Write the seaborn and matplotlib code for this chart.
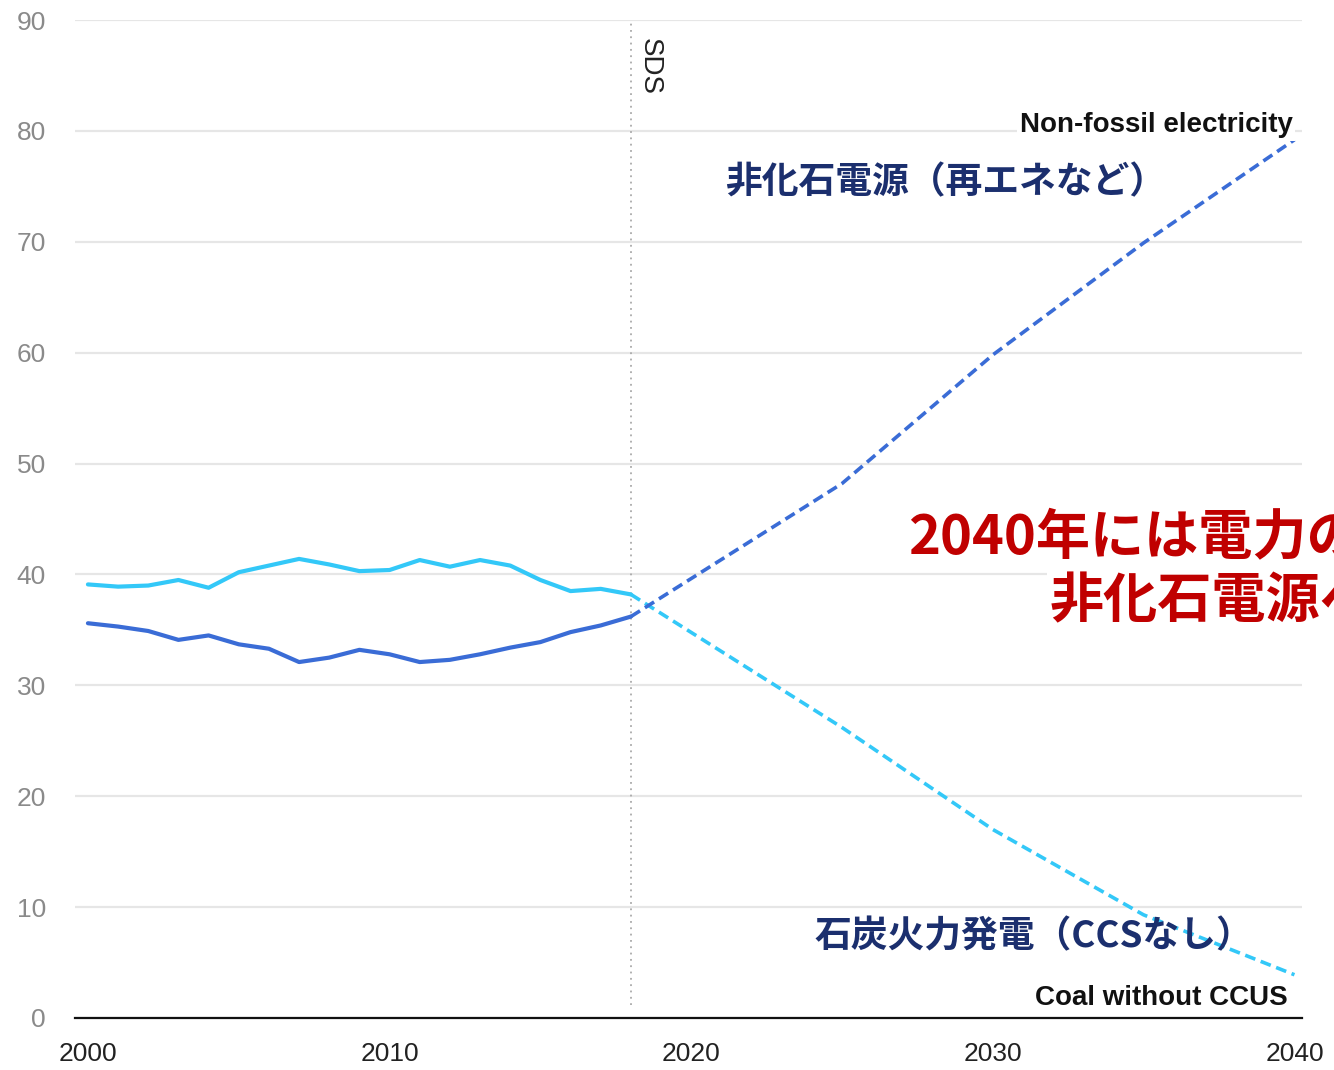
import numpy as np
import pandas as pd
import matplotlib
matplotlib.use("Agg")
import matplotlib.pyplot as plt
import seaborn as sns

# ---- data ----
hist_years = list(range(2000, 2019))
coal_hist = [39.1, 38.9, 39.0, 39.5, 38.8, 40.2, 40.8, 41.4, 40.9, 40.3, 40.4,
             41.3, 40.7, 41.3, 40.8, 39.5, 38.5, 38.7, 38.2]
nonfossil_hist = [35.6, 35.3, 34.9, 34.1, 34.5, 33.7, 33.3, 32.1, 32.5, 33.2,
                  32.8, 32.1, 32.3, 32.8, 33.4, 33.9, 34.8, 35.4, 36.2]
proj_years = [2018, 2025, 2030, 2035, 2040]
coal_proj = [38.2, 26.2, 17.0, 9.3, 3.9]
nonfossil_proj = [36.2, 48.2, 59.8, 69.9, 79.2]
x_ticks = [2000, 2010, 2020, 2030, 2040]
y_ticks = list(range(0, 100, 10))

c_light = "#33C8F8"
c_dark = "#3A6CD6"
c_navy = "#1B2F6E"
c_red = "#C00000"

sns.set_theme(style="whitegrid")
plt.rcParams["font.family"] = ["Noto Sans CJK JP", "DejaVu Sans"]

fig = plt.figure(figsize=(13.34, 10.70), dpi=100)
ax = fig.add_axes([0.0562, 0.0486, 0.9198, 0.9327])

hist_df = pd.DataFrame({"year": hist_years, "coal": coal_hist, "nonfossil": nonfossil_hist})
proj_df = pd.DataFrame({"year": proj_years, "coal": coal_proj, "nonfossil": nonfossil_proj})

sns.lineplot(data=hist_df, x="year", y="coal", ax=ax, color=c_light, lw=3.0)
sns.lineplot(data=hist_df, x="year", y="nonfossil", ax=ax, color=c_dark, lw=3.0)
sns.lineplot(data=proj_df, x="year", y="coal", ax=ax, color=c_light, lw=2.6,
             linestyle=(0, (3, 1.6)))
sns.lineplot(data=proj_df, x="year", y="nonfossil", ax=ax, color=c_dark, lw=2.6,
             linestyle=(0, (3, 1.6)))

ax.set_xlim(1999.57, 2040.25)
ax.set_ylim(0, 90)
ax.set_xticks(x_ticks)
ax.set_yticks(y_ticks)
ax.set_xlabel("")
ax.set_ylabel("")

ax.grid(axis="x", visible=False)
ax.grid(axis="y", color="#E6E6E6", lw=1.6)
for s in ["left", "right", "top"]:
    ax.spines[s].set_visible(False)
ax.spines["bottom"].set_color("#111111")
ax.spines["bottom"].set_linewidth(1.6)
ax.spines["bottom"].set_zorder(5)

ax.tick_params(axis="x", direction="out", length=15, width=1.5, color="#111111",
               pad=2, labelsize=19, labelcolor="#222222")
ax.tick_params(axis="y", length=0, pad=21, labelsize=19, labelcolor="#8A8A8A")
for lab in ax.get_xticklabels() + ax.get_yticklabels():
    lab.set_fontfamily(["Liberation Sans", "DejaVu Sans"])

# SDS vertical dotted line
ax.axvline(2018, ymin=0.013, ymax=1.0, color="#AAAAAA", lw=1.3, ls=(0, (1, 2.5)), zorder=1)
ax.text(2018.63, 85.8, "SDS", rotation=270, ha="center", va="center",
        fontsize=20, color="#222222", family=["Liberation Sans", "DejaVu Sans"])

# labels
ax.text(2039.94, 80.5, "Non-fossil electricity", ha="right", va="center",
        fontsize=20, fontweight="bold", color="#111111",
        family=["Liberation Sans", "DejaVu Sans"],
        bbox=dict(fc="white", ec="none", pad=2))
ax.text(2039.77, 1.8, "Coal without CCUS", ha="right", va="center",
        fontsize=20, fontweight="bold", color="#111111",
        family=["Liberation Sans", "DejaVu Sans"])
ax.text(2021.11, 75.3, "非化石電源（再エネなど）", ha="left", va="center",
        fontsize=26.5, fontweight="bold", color=c_navy)
ax.text(2024.1, 7.3, "石炭火力発電（CCSなし）", ha="left", va="center",
        fontsize=26.5, fontweight="bold", color=c_navy)

ax.text(2027.18, 43.2, "2040年には電力の", ha="left", va="center",
        fontsize=39, fontweight="bold", color=c_red,
        bbox=dict(fc="white", ec="none", pad=4))
ax.text(2031.89, 37.5, "非化石電源へ", ha="left", va="center",
        fontsize=39, fontweight="bold", color=c_red,
        bbox=dict(fc="white", ec="none", pad=2))

fig.savefig("out.png", dpi=100)
